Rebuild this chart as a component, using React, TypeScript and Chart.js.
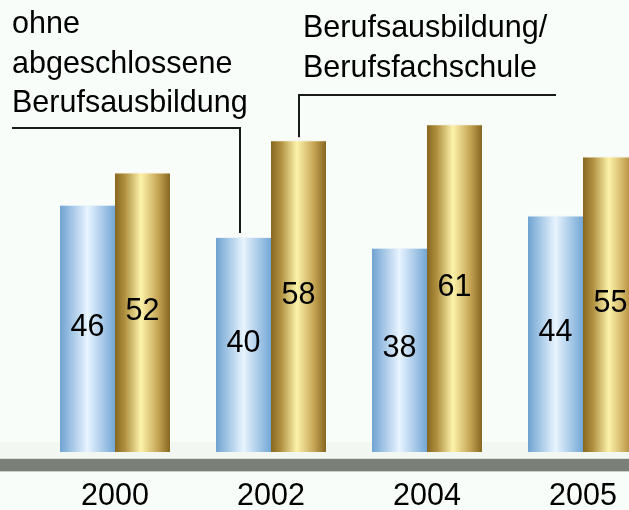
import React, { useEffect, useRef } from "react";
import { Chart, registerables } from "chart.js";

Chart.register(...registerables);

const categories = ["2000", "2002", "2004", "2005"];
const ohneValues = [46, 40, 38, 44];
const berufValues = [52, 58, 61, 55];
const leftLabel = ["ohne", "abgeschlossene", "Berufsausbildung"];
const rightLabel = ["Berufsausbildung/", "Berufsfachschule"];

const FONT = '30.5px "Liberation Sans", Arial, sans-serif';
const GROUP_FRACTION = 110 / 156;

const blueStops: [number, string][] = [
  [0, "#6fa3d1"],
  [0.5, "#e8f4ff"],
  [1, "#73a7d5"],
];
const goldStops: [number, string][] = [
  [0, "#876720"],
  [0.18, "#b0903f"],
  [0.47, "#fdf3ab"],
  [0.78, "#c6a555"],
  [1, "#876720"],
];

function cylinder(stops: [number, string][], side: number) {
  return (c: any) => {
    const chart = c.chart;
    const xs = chart.scales && chart.scales.x;
    if (!xs || typeof c.dataIndex !== "number") return stops[1][1];
    const center = xs.getPixelForValue(c.dataIndex);
    const catW = xs.getPixelForValue(1) - xs.getPixelForValue(0);
    if (!isFinite(center) || !isFinite(catW) || catW <= 0) return stops[1][1];
    const barW = (catW * GROUP_FRACTION) / 2;
    const bx = center + (side * barW) / 2;
    const g = chart.ctx.createLinearGradient(bx - barW / 2, 0, bx + barW / 2, 0);
    stops.forEach(([o, col]) => g.addColorStop(o, col));
    return g;
  };
}

export default function App() {
  const ref = useRef<HTMLCanvasElement | null>(null);

  useEffect(() => {
    if (!ref.current) return;

    const bgPlugin = {
      id: "bgFill",
      beforeDraw(chart: any) {
        const ctx = chart.ctx;
        ctx.save();
        ctx.fillStyle = "#f8fdfa";
        ctx.fillRect(0, 0, chart.width, chart.height);
        const base = chart.scales.y.getPixelForValue(0);
        ctx.fillStyle = "#f2f7f2";
        ctx.fillRect(0, base - 10, chart.width, 16);
        ctx.fillStyle = "#d9dfd8";
        ctx.fillRect(0, base + 6, chart.width, 1);
        ctx.fillStyle = "#7a7f78";
        ctx.fillRect(0, base + 7, chart.width, 12);
        ctx.fillStyle = "#c9cfc8";
        ctx.fillRect(0, base + 19, chart.width, 1);
        ctx.restore();
      },
    };

    const labelsPlugin = {
      id: "texts",
      afterDatasetsDraw(chart: any) {
        const ctx = chart.ctx;
        ctx.save();
        ctx.font = FONT;
        ctx.fillStyle = "#000";
        ctx.textBaseline = "alphabetic";
        ctx.textAlign = "center";
        chart.data.datasets.forEach((ds: any, di: number) => {
          chart.getDatasetMeta(di).data.forEach((el: any, i: number) => {
            const cy = (el.y + el.base) / 2;
            ctx.fillText(String(ds.data[i]), el.x, cy + 7.5);
          });
        });
        const x = chart.scales.x;
        categories.forEach((c, i) => {
          ctx.fillText(c, x.getPixelForValue(i), 505);
        });
        ctx.textAlign = "left";
        [33, 73, 112].forEach((y, i) => ctx.fillText(leftLabel[i], 12, y));
        [37, 77].forEach((y, i) => ctx.fillText(rightLabel[i], 303, y));
        const blue = chart.getDatasetMeta(0).data[1];
        const gold = chart.getDatasetMeta(1).data[1];
        ctx.strokeStyle = "#1a1a1a";
        ctx.lineWidth = 2;
        ctx.beginPath();
        const bx = Math.round(blue.x - 4);
        ctx.moveTo(12, 128);
        ctx.lineTo(bx, 128);
        ctx.lineTo(bx, blue.y - 4);
        ctx.stroke();
        const gx = Math.round(gold.x);
        ctx.beginPath();
        ctx.moveTo(gx, gold.y - 3);
        ctx.lineTo(gx, 95);
        ctx.lineTo(556, 95);
        ctx.stroke();
        ctx.restore();
      },
    };

    const chart = new Chart(ref.current, {
      type: "bar",
      data: {
        labels: categories,
        datasets: [
          {
            label: "ohne abgeschlossene Berufsausbildung",
            data: ohneValues,
            backgroundColor: cylinder(blueStops, -1),
            borderColor: "rgba(235,242,246,0.9)",
            borderWidth: { top: 1, left: 0, right: 0, bottom: 0 },
            borderSkipped: "bottom",
          },
          {
            label: "Berufsausbildung/Berufsfachschule",
            data: berufValues,
            backgroundColor: cylinder(goldStops, 1),
            borderColor: "rgba(245,240,220,0.9)",
            borderWidth: { top: 1, left: 0, right: 0, bottom: 0 },
            borderSkipped: "bottom",
          },
        ],
      },
      options: {
        animation: false,
        responsive: false,
        maintainAspectRatio: false,
        layout: { padding: { left: 37, right: 19, top: 22, bottom: 58 } },
        plugins: {
          legend: { display: false },
          tooltip: { enabled: false },
        },
        datasets: {
          bar: { categoryPercentage: GROUP_FRACTION, barPercentage: 1 },
        },
        scales: {
          x: { display: false, grid: { display: false } },
          y: { display: false, min: 0, max: 80, grid: { display: false } },
        },
      },
      plugins: [bgPlugin, labelsPlugin],
    });

    return () => chart.destroy();
  }, []);

  return (
    <div
      style={{
        position: "absolute",
        left: 0,
        top: 0,
        width: 629,
        height: 510,
        overflow: "hidden",
        background: "#f8fdfa",
      }}
    >
      <canvas ref={ref} width={680} height={510} style={{ display: "block" }} />
    </div>
  );
}
